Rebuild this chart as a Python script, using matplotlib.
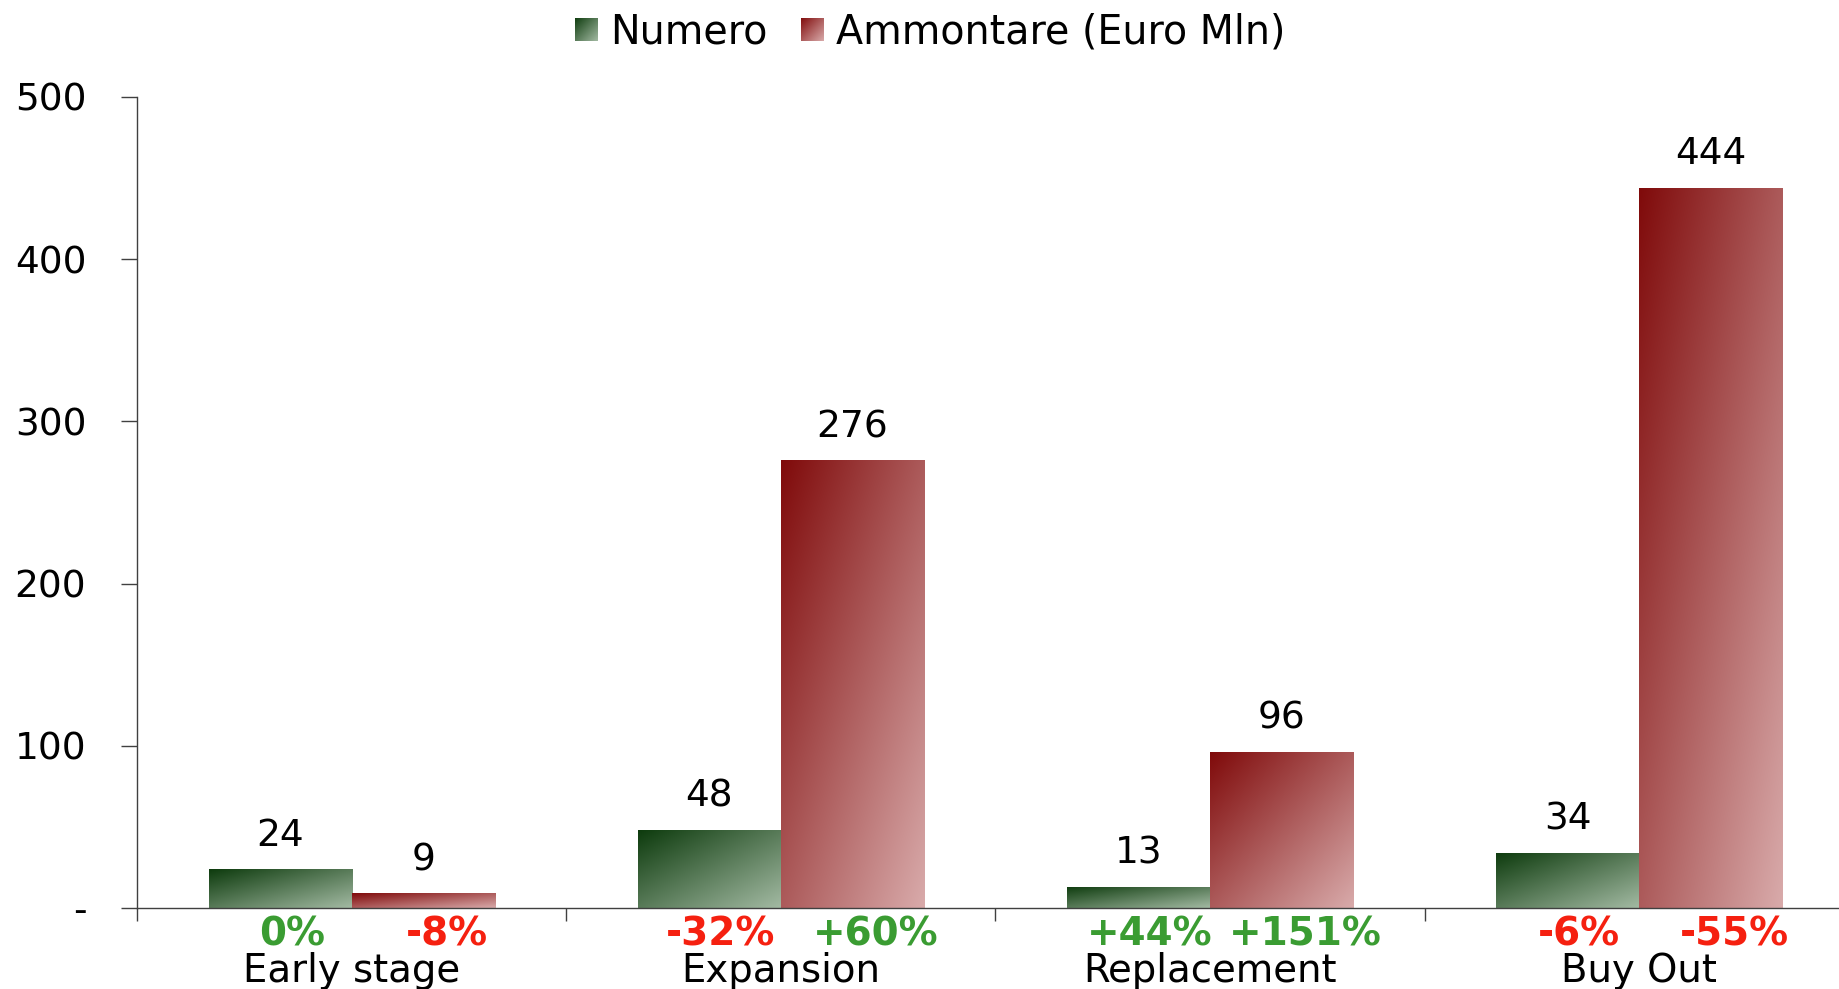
import numpy as np
import matplotlib
matplotlib.use("Agg")
import matplotlib.pyplot as plt


# ==========================
# DATI
# ==========================

categorie = ["Early stage", "Expansion", "Replacement", "Buy Out"]

numero = [24, 48, 13, 34]

ammontare = [9, 276, 96, 444]

var_numero = ["0%", "-32%", "+44%", "-6%"]

var_ammontare = ["-8%", "+60%", "+151%", "-55%"]

y_ticks = [0, 100, 200, 300, 400, 500]
y_tick_labels = ["-", "100", "200", "300", "400", "500"]


# ==========================
# STILE
# ==========================

plt.rcParams["font.family"] = ["DejaVu Sans"]

verde_scuro = (0.05, 0.23, 0.05)
verde_chiaro = (0.64, 0.73, 0.64)
rosso_scuro = (0.50, 0.04, 0.04)
rosso_chiaro = (0.85, 0.67, 0.67)

col_pos = "#3a9c32"
col_neg = "#f52010"

fs = 27


def gradiente(c0, c1, n=200):
    # diagonale: scuro in alto a sinistra, chiaro in basso a destra
    i, j = np.mgrid[0:n, 0:n]
    t = (i + j) / (2 * (n - 1))
    c0 = np.array(c0)
    c1 = np.array(c1)
    return c0 + (c1 - c0) * t[..., None]


# ==========================
# GRAFICO
# ==========================

fig = plt.figure(figsize=(18.39, 9.89), dpi=100)

ax = fig.add_axes([0.0745, 0.0819, 0.9335, 0.8201])

x = np.arange(len(categorie))
w = 1 / 3

bar_num = ax.bar(x - w / 2, numero, w, color="none", linewidth=0)
bar_amm = ax.bar(x + w / 2, ammontare, w, color="none", linewidth=0)

img_verde = gradiente(verde_scuro, verde_chiaro)
img_rosso = gradiente(rosso_scuro, rosso_chiaro)

for bars, img in [(bar_num, img_verde), (bar_amm, img_rosso)]:
    for b in bars:
        x0 = b.get_x()
        x1 = x0 + b.get_width()
        h = b.get_height()
        im = ax.imshow(img, extent=[x0, x1, 0, h], aspect="auto",
                       zorder=2, interpolation="bilinear")
        im.set_clip_path(b)

ax.set_xlim(-0.5, len(categorie) - 0.5)
ax.set_ylim(0, 500)

# etichette valori
for bars, vals in [(bar_num, numero), (bar_amm, ammontare)]:
    for b, v in zip(bars, vals):
        ax.annotate(str(v), (b.get_x() + b.get_width() / 2, v),
                    xytext=(0, 11), textcoords="offset points",
                    ha="center", va="bottom", fontsize=fs)

# variazioni percentuali
for bars, vars_, shift in [(bar_num, var_numero, 0.027),
                           (bar_amm, var_ammontare, 0.055)]:
    for b, s in zip(bars, vars_):
        col = col_neg if s.startswith("-") else col_pos
        ax.annotate(s, (b.get_x() + b.get_width() / 2 + shift, 0),
                    xytext=(0, -27), textcoords="offset points",
                    ha="center", va="baseline", fontsize=28,
                    fontweight="bold", color=col, annotation_clip=False)

# categorie
for xi, c in zip(x, categorie):
    ax.annotate(c, (xi, 0), xytext=(0, -53), textcoords="offset points",
                ha="center", va="baseline", fontsize=27.8,
                annotation_clip=False)

# assi
for s in ["top", "right"]:
    ax.spines[s].set_visible(False)
for s in ["left", "bottom"]:
    ax.spines[s].set_color("#404040")
    ax.spines[s].set_linewidth(1)

ax.set_yticks(y_ticks)
ax.set_yticklabels(y_tick_labels, fontsize=fs)
ax.tick_params(axis="y", direction="out", length=11.5, width=1,
               color="#404040", pad=25)

ax.set_xticks(np.arange(-0.5, len(categorie), 1.0))
ax.set_xticklabels([])
ax.tick_params(axis="x", direction="out", length=9, width=1,
               color="#404040")


# ==========================
# LEGENDA
# ==========================

voci = [("Numero", img_verde, 0.3127, 0.3317),
        ("Ammontare (Euro Mln)", img_rosso, 0.4356, 0.4546)]

for testo, img, xq, xt in voci:
    axq = fig.add_axes([xq, 0.9585, 0.0125, 0.02326])
    axq.imshow(img, aspect="auto", interpolation="bilinear")
    axq.axis("off")
    fig.text(xt, 0.967, testo, fontsize=28.5, va="center", ha="left")


fig.savefig("out.png", dpi=100)
